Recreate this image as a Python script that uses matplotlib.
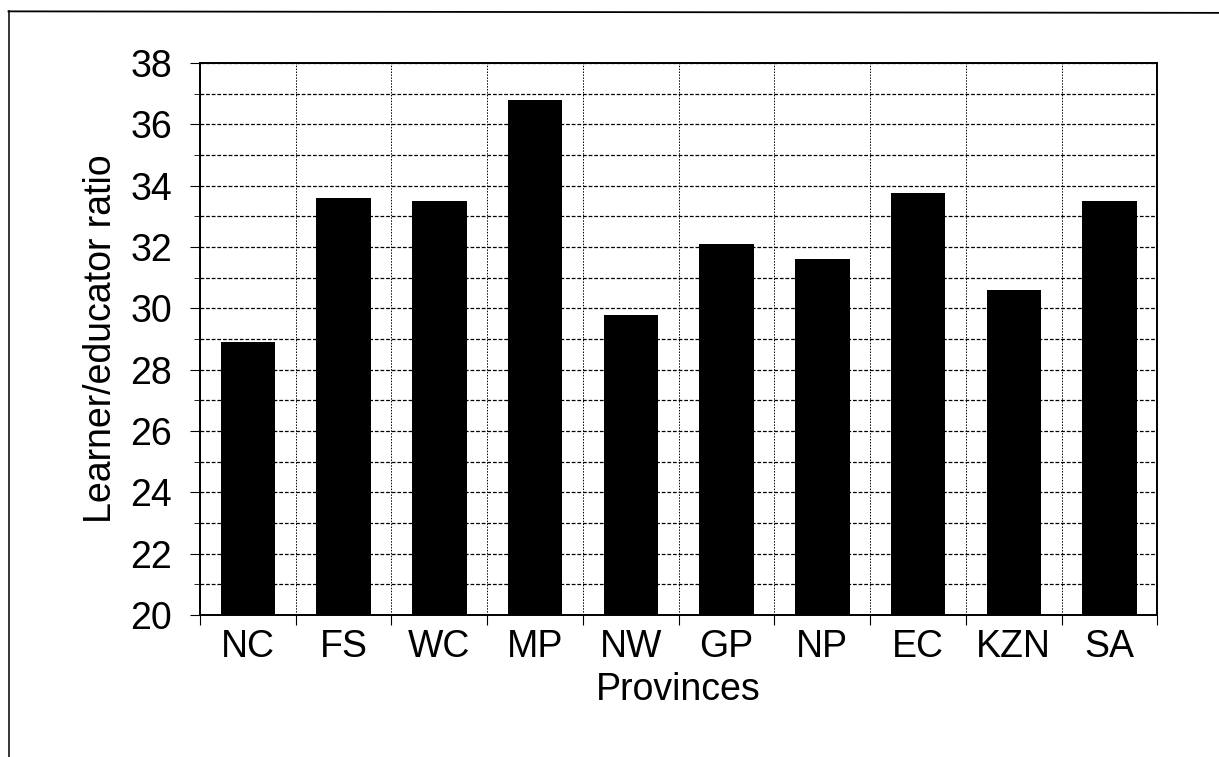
import numpy as np
import matplotlib.pyplot as plt
from matplotlib.ticker import MultipleLocator, FixedLocator
from matplotlib.lines import Line2D

plt.rcParams['font.family'] = ['Liberation Sans', 'DejaVu Sans']

provinces = ['NC', 'FS', 'WC', 'MP', 'NW', 'GP', 'NP', 'EC', 'KZN', 'SA']
ratios = [28.9, 33.6, 33.5, 36.8, 29.8, 32.1, 31.6, 33.75, 30.6, 33.5]

fig = plt.figure(figsize=(12.19, 7.57), dpi=100)
ax = fig.add_axes([0.164, 0.1876, 0.7855, 0.729])

x = np.arange(len(provinces))
ax.bar(x, ratios, width=0.57, color='black', zorder=3)

ax.set_xlim(-0.5, len(provinces) - 0.5)
ax.set_ylim(20, 38)
ax.set_xticks(x)
ax.set_xticklabels(provinces, fontsize=27)
ax.xaxis.set_minor_locator(FixedLocator(np.arange(-0.5, len(provinces), 1.0)))
ax.tick_params(axis='x', which='major', length=0, pad=10)
ax.tick_params(axis='x', which='minor', length=7, width=0.8, direction='out')

ax.yaxis.set_major_locator(MultipleLocator(2))
ax.yaxis.set_minor_locator(MultipleLocator(1))
ax.tick_params(axis='y', which='major', labelsize=27, length=7, width=0.8, pad=13)
ax.tick_params(axis='y', which='minor', length=4, width=0.6)

ax.grid(True, which='both', axis='y', color='black', linestyle=(0, (3, 1.5)), linewidth=0.9, zorder=0)
ax.grid(True, which='minor', axis='x', color='black', linestyle=(0, (1.5, 1.5)), linewidth=0.7, zorder=0)
ax.grid(False, which='major', axis='x')

for s in ax.spines.values():
    s.set_linewidth(1.4)

ax.set_xlabel('Provinces', fontsize=27, labelpad=5)
ax.set_ylabel('Learner/educator ratio', fontsize=27, labelpad=8)

# frame of the scanned page (top and left only)
fig.add_artist(Line2D([0.007, 1.0], [0.985, 0.983], transform=fig.transFigure, color='black', linewidth=1.3))
fig.add_artist(Line2D([0.007, 0.007], [0.985, 0.0], transform=fig.transFigure, color='black', linewidth=1.1))

fig.savefig('out.png', dpi=100)
